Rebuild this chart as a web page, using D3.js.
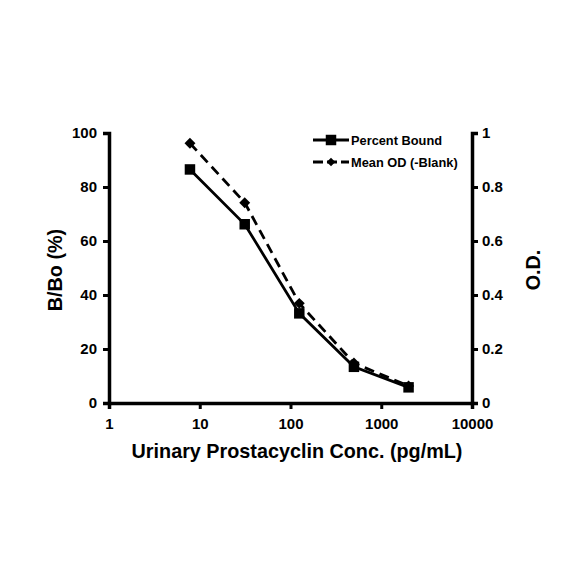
<!DOCTYPE html>
<html>
<head>
<meta charset="utf-8">
<script src="https://cdn.jsdelivr.net/npm/d3@7"></script>
<style>
  body { margin: 0; background: #fff; }
  text { font-family: "Liberation Sans", Arial, sans-serif; font-weight: bold; }
</style>
</head>
<body>
<svg id="chart" width="584" height="584"></svg>
<script>
// concentrations (pg/mL)
var conc = [7.8, 31.3, 125, 500, 2000];
// percent bound B/Bo (%)
var percentBound = [86.5, 66.2, 33.2, 13.4, 5.8];
// mean OD minus blank
var meanOD = [0.962, 0.742, 0.369, 0.148, 0.063];

var xTicks = [1, 10, 100, 1000, 10000];
var leftTicks = [0, 20, 40, 60, 80, 100];
var rightTicks = [0, 0.2, 0.4, 0.6, 0.8, 1];

var svg = d3.select("#chart");

var plotLeft = 109, plotRight = 472, plotTop = 133, plotBottom = 403;

var x = d3.scaleLog().domain([1, 10000]).range([plotLeft, plotRight]);
var yL = d3.scaleLinear().domain([0, 100]).range([plotBottom, plotTop]);
var yR = d3.scaleLinear().domain([0, 1]).range([plotBottom, plotTop]);

// axes
var xAxis = svg.append("g")
  .attr("transform", "translate(0," + plotBottom + ")")
  .call(d3.axisBottom(x).tickValues(xTicks).tickFormat(d3.format("d")).tickSizeOuter(0).tickSize(6).tickPadding(6));

var lAxis = svg.append("g")
  .attr("transform", "translate(" + plotLeft + ",0)")
  .call(d3.axisLeft(yL).tickValues(leftTicks).tickSizeOuter(0).tickSize(6).tickPadding(6));

var rAxis = svg.append("g")
  .attr("transform", "translate(" + plotRight + ",0)")
  .call(d3.axisRight(yR).tickValues(rightTicks).tickFormat(function(d) { return d === 0 || d === 1 ? d : d3.format(".1f")(d); })
    .tickSizeOuter(0).tickSize(6).tickPadding(4));

[xAxis, lAxis, rAxis].forEach(function(a) {
  a.selectAll("path").attr("stroke", "#000").attr("stroke-width", 3.5);
  a.selectAll("line").attr("stroke", "#000").attr("stroke-width", 3);
  a.selectAll("text").attr("font-size", 15).attr("fill", "#000")
    .style("font-family", "'Liberation Sans', Arial, sans-serif").style("font-weight", "bold");
});
xAxis.selectAll("text").attr("dy", "0.9em");

// lines
var lineL = d3.line().x(function(d, i) { return x(conc[i]); }).y(function(d) { return yL(d); });
var lineR = d3.line().x(function(d, i) { return x(conc[i]); }).y(function(d) { return yR(d); });

svg.append("path").datum(meanOD).attr("d", lineR)
  .attr("fill", "none").attr("stroke", "#000").attr("stroke-width", 2.8)
  .attr("stroke-dasharray", "10,6");

svg.append("path").datum(percentBound).attr("d", lineL)
  .attr("fill", "none").attr("stroke", "#000").attr("stroke-width", 2.8);

var sq = d3.symbol().type(d3.symbolSquare).size(110);
// diamond = square turned 45 degrees
var dm = d3.symbol().type(d3.symbolSquare).size(60);
var dmSmall = d3.symbol().type(d3.symbolSquare).size(36);

svg.selectAll(".dm").data(meanOD).enter().append("path")
  .attr("transform", function(d, i) { return "translate(" + x(conc[i]) + "," + yR(d) + ") rotate(45)"; })
  .attr("d", dm).attr("fill", "#000");

svg.selectAll(".sq").data(percentBound).enter().append("path")
  .attr("transform", function(d, i) { return "translate(" + x(conc[i]) + "," + yL(d) + ")"; })
  .attr("d", sq).attr("fill", "#000");

// legend
var legend = svg.append("g").attr("transform", "translate(313,140)");
legend.append("line").attr("x1", 0).attr("x2", 36).attr("y1", 0).attr("y2", 0)
  .attr("stroke", "#000").attr("stroke-width", 3);
legend.append("path").attr("transform", "translate(18,0)").attr("d", sq).attr("fill", "#000");
legend.append("text").attr("x", 38).attr("y", 4.5).attr("font-size", 12.8).text("Percent Bound");

legend.append("line").attr("x1", 0).attr("x2", 36).attr("y1", 22).attr("y2", 22)
  .attr("stroke", "#000").attr("stroke-width", 3).attr("stroke-dasharray", "10,4");
legend.append("path").attr("transform", "translate(18,22) rotate(45)").attr("d", dmSmall).attr("fill", "#000");
legend.append("text").attr("x", 38).attr("y", 26.5).attr("font-size", 12.8).text("Mean OD (-Blank)");

// axis titles
svg.append("text").attr("x", 297).attr("y", 458)
  .attr("text-anchor", "middle").attr("font-size", 19.8)
  .text("Urinary Prostacyclin Conc. (pg/mL)");

svg.append("text").attr("transform", "translate(62,270) rotate(-90)")
  .attr("text-anchor", "middle").attr("font-size", 19.8).text("B/Bo (%)");

svg.append("text").attr("transform", "translate(540,270) rotate(-90)")
  .attr("text-anchor", "middle").attr("font-size", 19.8).text("O.D.");
</script>
</body>
</html>
